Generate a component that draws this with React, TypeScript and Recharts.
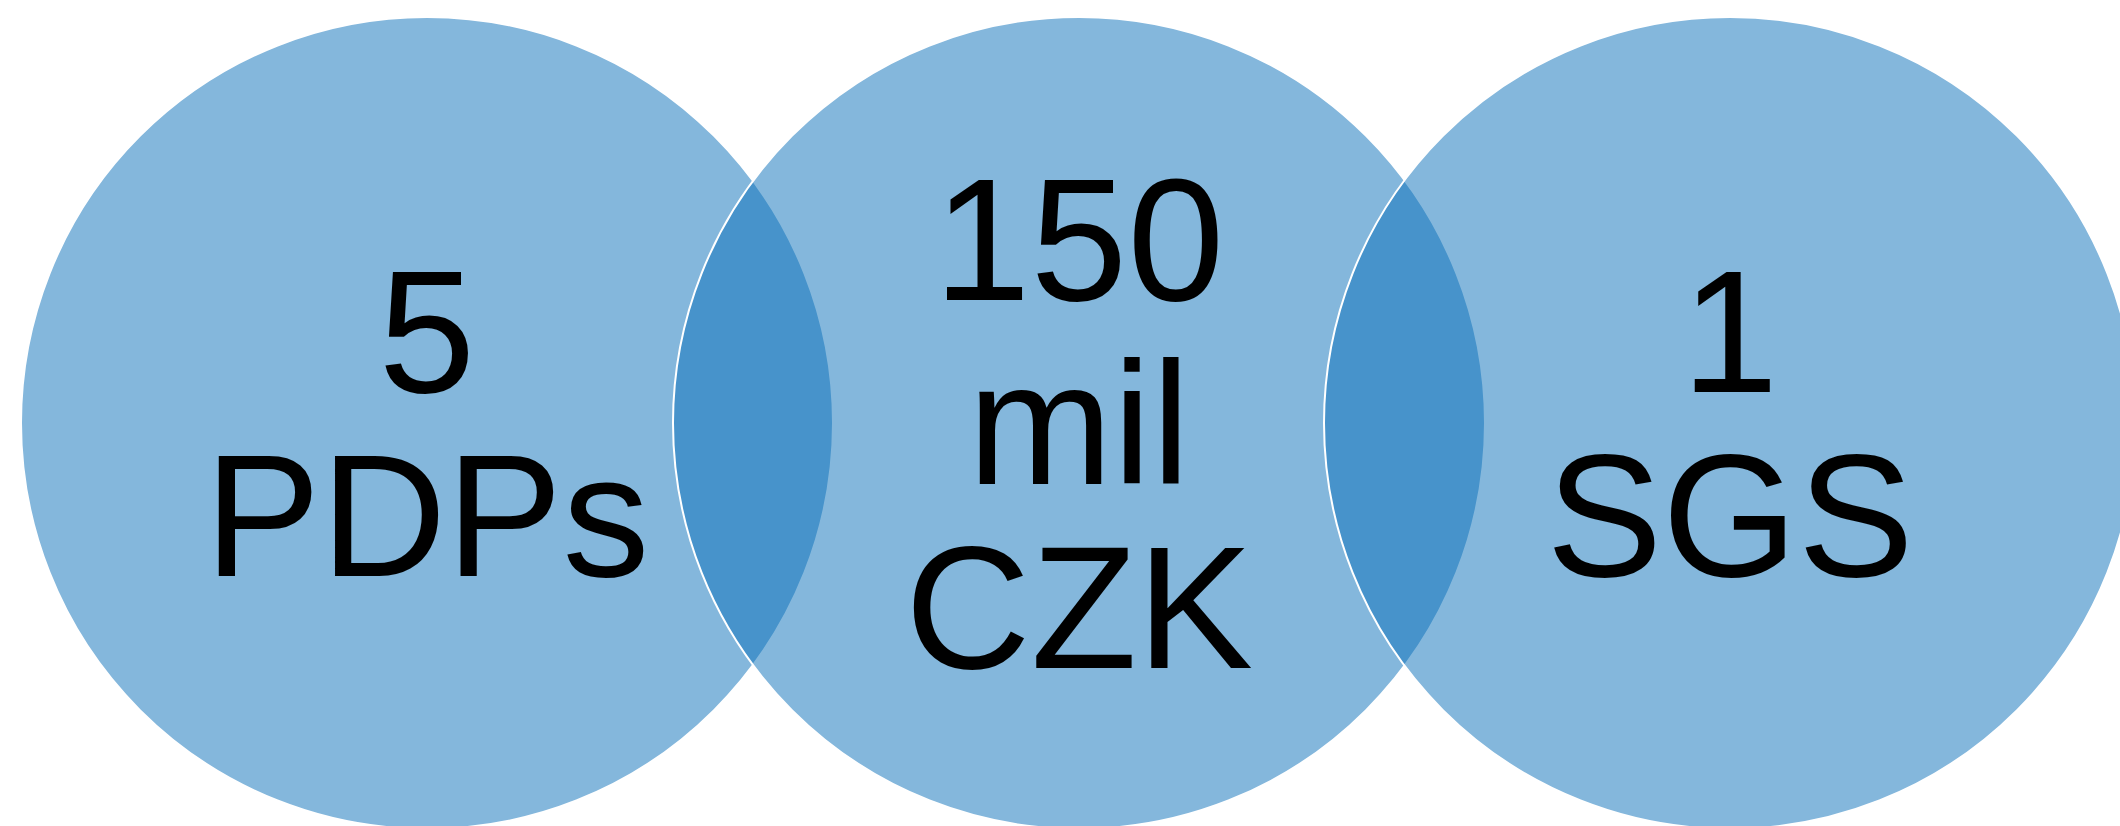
import React from 'react';
import { ScatterChart, Scatter, XAxis, YAxis } from 'recharts';

const WIDTH = 2120;
const HEIGHT = 826;

// the three sets, centres and radius (picture units)
const setNames = ['PDPs', 'CZK', 'SGS'];
const setX = [427, 1079, 1730];
const setY = [423, 423, 423];
const setRadius = [406, 406, 406];
const setLabels = [['5', 'PDPs'], ['150', 'mil', 'CZK'], ['1', 'SGS']];

const data = setNames.map((name, i) => ({
    name,
    x: setX[i],
    y: setY[i],
    r: setRadius[i],
    lines: setLabels[i],
}));

const FILL = '#096fb9';
const FONT_SIZE = 174;
const LINE_GAP = 184;
const CAP_HALF = 61;

const pxPerUnit = WIDTH / WIDTH; // x domain spans the whole plot

const CircleShape = (props: any) => {
    const { cx, cy, payload } = props;
    return (
        <circle
            cx={cx}
            cy={cy}
            r={payload.r * pxPerUnit}
            fill={FILL}
            fillOpacity={0.5}
            stroke="#ffffff"
            strokeWidth={2}
        />
    );
};

const LabelShape = (props: any) => {
    const { cx, cy, payload } = props;
    const lines: string[] = payload.lines;
    const n = lines.length;
    return (
        <g>
            {lines.map((t, i) => (
                <text
                    key={i}
                    x={cx}
                    y={cy + (i - (n - 1) / 2) * LINE_GAP + CAP_HALF}
                    textAnchor="middle"
                    fontSize={FONT_SIZE}
                    fontFamily="'Liberation Sans', Arial, sans-serif"
                    fill="#000000"
                >
                    {t}
                </text>
            ))}
        </g>
    );
};

const App: React.FC = () => {
    return (
        <div style={{ position: 'absolute', left: 0, top: 0, width: WIDTH, height: HEIGHT, background: '#fff' }}>
            <ScatterChart width={WIDTH} height={HEIGHT} margin={{ top: 0, right: 0, bottom: 0, left: 0 }}>
                <XAxis type="number" dataKey="x" domain={[0, WIDTH]} hide />
                <YAxis type="number" dataKey="y" domain={[0, HEIGHT]} reversed hide />
                <Scatter data={data} shape={<CircleShape />} isAnimationActive={false} />
                <Scatter data={data} shape={<LabelShape />} isAnimationActive={false} />
            </ScatterChart>
        </div>
    );
};

export default App;
